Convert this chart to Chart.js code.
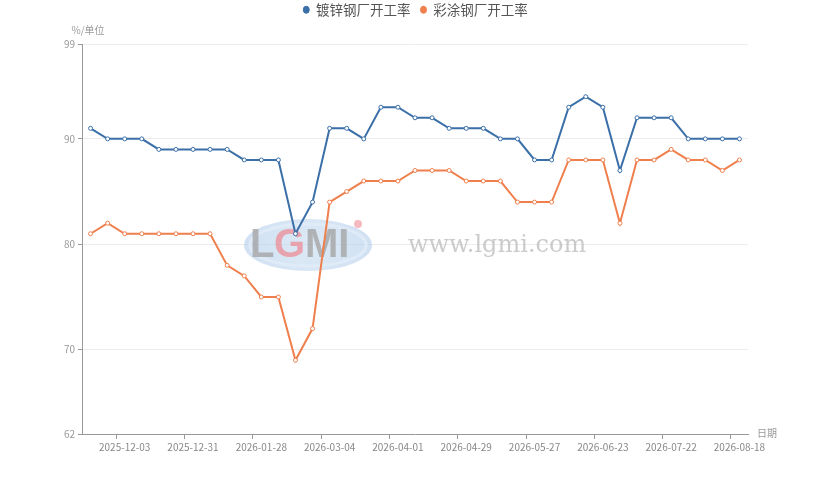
<!DOCTYPE html>
<html lang="zh-CN">
<head>
    <meta charset="UTF-8">
    <title>镀锌钢厂/彩涂钢厂开工率</title>
    <script src="https://cdn.jsdelivr.net/npm/chart.js@4.4.1/dist/chart.umd.min.js"></script>
    <style>
        html, body { margin: 0; padding: 0; background: #fff; }
        .chart_box { width: 831px; height: 485px; }
    </style>
</head>
<body>
<div class="chart_box">
    <canvas id="rateChart" width="831" height="485"></canvas>
</div>
<script>
    // 日期 (周度)
    const dates = [
        '2025-11-19', '2025-11-26', '2025-12-03', '2025-12-10', '2025-12-17', '2025-12-24', '2025-12-31',
        '2026-01-07', '2026-01-14', '2026-01-21', '2026-01-28', '2026-02-04', '2026-02-11', '2026-02-25',
        '2026-03-04', '2026-03-11', '2026-03-18', '2026-03-25', '2026-04-01', '2026-04-08', '2026-04-15',
        '2026-04-22', '2026-04-29', '2026-05-06', '2026-05-13', '2026-05-20', '2026-05-27', '2026-06-03',
        '2026-06-10', '2026-06-17', '2026-06-23', '2026-07-01', '2026-07-08', '2026-07-15', '2026-07-22',
        '2026-07-29', '2026-08-05', '2026-08-12', '2026-08-18'
    ];
    // 镀锌钢厂开工率
    const galvanized = [91, 90, 90, 90, 89, 89, 89, 89, 89, 88, 88, 88, 81, 84, 91, 91, 90, 93, 93, 92,
        92, 91, 91, 91, 90, 90, 88, 88, 93, 94, 93, 87, 92, 92, 92, 90, 90, 90, 90];
    // 彩涂钢厂开工率
    const colorCoated = [81, 82, 81, 81, 81, 81, 81, 81, 78, 77, 75, 75, 69, 72, 84, 85, 86, 86, 86, 87,
        87, 87, 86, 86, 86, 84, 84, 84, 88, 88, 88, 82, 88, 88, 89, 88, 88, 87, 88];
    const yTicks = [62, 70, 80, 90, 99];

    const blue = '#3b6fa8';
    const orange = '#ef7f4c';
    const tickFont = { family: "'Noto Sans CJK SC', 'Liberation Sans', sans-serif", size: 10 };

    // 每4周显示一个日期
    function showDate(i) {
        return i >= 2 && (i - 2) % 4 === 0;
    }

    // 水印 + 坐标轴名称
    const extras = {
        id: 'extras',
        beforeInit(chart) {
            const fit = chart.legend.fit;
            chart.legend.fit = function () {
                fit.bind(chart.legend)();
                this.height = 51;
            };
        },
        beforeDatasetsDraw(chart) {
            const c = chart.ctx;
            c.save();
            // logo
            const g = c.createRadialGradient(308, 245, 5, 308, 245, 66);
            g.addColorStop(0, 'rgba(190,214,238,0.55)');
            g.addColorStop(1, 'rgba(170,200,232,0.55)');
            c.beginPath();
            c.ellipse(308, 245, 64, 26, 0, 0, Math.PI * 2);
            c.fillStyle = g;
            c.fill();
            c.lineWidth = 3;
            c.strokeStyle = 'rgba(225,236,248,0.9)';
            c.beginPath();
            c.ellipse(308, 245, 58, 21, 0, 0, Math.PI * 2);
            c.stroke();
            c.font = "bold 40px 'Liberation Sans', sans-serif";
            c.textBaseline = 'middle';
            c.textAlign = 'left';
            c.fillStyle = 'rgba(165,165,165,0.8)';
            c.fillText('L', 250, 246);
            c.fillStyle = 'rgba(236,140,150,0.75)';
            c.fillText('G', 274, 246);
            c.fillStyle = 'rgba(165,165,165,0.8)';
            c.fillText('MI', 305, 246);
            c.fillStyle = 'rgba(236,140,150,0.6)';
            c.beginPath();
            c.arc(358, 224, 4, 0, Math.PI * 2);
            c.fill();
            // url
            c.font = "24px 'DejaVu Serif', 'Liberation Serif', serif";
            c.fillStyle = 'rgba(190,190,190,0.8)';
            c.fillText('www.lgmi.com', 408, 246);
            c.restore();
        },
        afterDraw(chart) {
            const c = chart.ctx;
            const area = chart.chartArea;
            c.save();
            c.font = "10px 'Noto Sans CJK SC', sans-serif";
            c.fillStyle = '#999';
            c.textAlign = 'center';
            c.textBaseline = 'middle';
            c.fillText('%/单位', area.left + 6, 30);
            c.textAlign = 'left';
            c.fillText('日期', area.right + 9, area.bottom - 1);
            c.restore();
        }
    };

    const ctx = document.getElementById('rateChart').getContext('2d');
    const rateChart = new Chart(ctx, {
        type: 'line',
        data: {
            labels: dates,
            datasets: [{
                label: '镀锌钢厂开工率',
                data: galvanized,
                borderColor: blue,
                backgroundColor: blue,
                pointBackgroundColor: '#fff',
                pointBorderColor: blue,
                borderWidth: 2,
                pointRadius: 2,
                pointBorderWidth: 1,
                tension: 0
            }, {
                label: '彩涂钢厂开工率',
                data: colorCoated,
                borderColor: orange,
                backgroundColor: orange,
                pointBackgroundColor: '#fff',
                pointBorderColor: orange,
                borderWidth: 2,
                pointRadius: 2,
                pointBorderWidth: 1,
                tension: 0
            }]
        },
        options: {
            responsive: false,
            animation: false,
            devicePixelRatio: 1,
            layout: { padding: { left: 0, right: 0, top: -7, bottom: 0 } },
            plugins: {
                legend: {
                    position: 'top',
                    labels: {
                        usePointStyle: true,
                        pointStyle: 'circle',
                        boxWidth: 6,
                        boxHeight: 5,
                        pointStyleWidth: 6,
                        padding: 10,
                        color: '#555',
                        font: { family: "'Noto Sans CJK SC', sans-serif", size: 13.5 },
                        generateLabels(chart) {
                            const items = Chart.defaults.plugins.legend.labels.generateLabels(chart);
                            items.forEach(it => { it.fillStyle = it.strokeStyle; });
                            return items;
                        }
                    }
                },
                tooltip: { enabled: false }
            },
            scales: {
                x: {
                    offset: true,
                    grid: {
                        offset: true,
                        drawOnChartArea: false,
                        drawTicks: true,
                        tickLength: 5,
                        tickColor: c => showDate(c.index) ? '#999' : 'rgba(0,0,0,0)'
                    },
                    border: { color: '#999' },
                    ticks: {
                        autoSkip: false,
                        maxRotation: 0,
                        color: '#888',
                        font: tickFont,
                        padding: 2,
                        callback: function (v, i) {
                            return showDate(i) ? dates[i] : '';
                        }
                    },
                    afterFit(axis) { axis.height = 51; }
                },
                y: {
                    min: 62,
                    max: 99,
                    afterBuildTicks(axis) { axis.ticks = yTicks.map(v => ({ value: v })); },
                    grid: {
                        color: '#ececec',
                        tickLength: 4,
                        tickColor: '#999'
                    },
                    border: { color: '#999' },
                    ticks: {
                        color: '#999',
                        font: tickFont,
                        padding: 3
                    },
                    afterFit(axis) { axis.width = 82; }
                },
                // 右侧留白 (放"日期")
                yRight: {
                    position: 'right',
                    grid: { display: false, drawTicks: false },
                    border: { display: false },
                    ticks: { display: false },
                    afterFit(axis) { axis.width = 83; }
                }
            }
        },
        plugins: [extras]
    });
</script>
</body>
</html>
